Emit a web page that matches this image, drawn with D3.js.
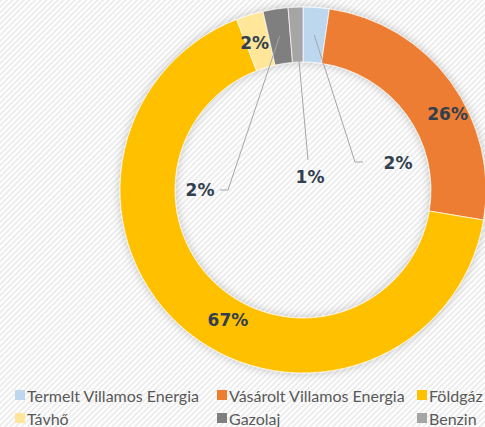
<!DOCTYPE html>
<html lang="hu">
  <head>
    <meta charset="UTF-8">
    <title>Energia megoszlás</title>
    <script src="https://d3js.org/d3.v7.min.js"></script>
    <style>
      body { margin: 0; background: #fff; }
      svg { display: block; }
    </style>
  </head>
  <body>
    <script>

      const categories = ["Termelt Villamos Energia", "Vásárolt Villamos Energia", "Földgáz", "Távhő", "Gazolaj", "Benzin"];
      const values = [2.3, 25.3, 66.4, 2.4, 2.2, 1.3];
      const valueLabels = ["2%", "26%", "67%", "2%", "2%", "1%"];
      const colors = ["#bdd7ee", "#ed7d31", "#ffc000", "#ffe699", "#7f7f7f", "#a5a5a5"];

      const w = 485;
      const h = 427;
      const cx = 303, cy = 190;
      const rOuter = 183, rInner = 128;

      const svg = d3.select("body")
                    .append("svg")
                    .attr("width", w)
                    .attr("height", h);

      const defs = svg.append("defs");

      // diagonal striped background
      const pat = defs.append("pattern")
                      .attr("id", "stripes")
                      .attr("patternUnits", "userSpaceOnUse")
                      .attr("width", 4)
                      .attr("height", 4)
                      .attr("patternTransform", "rotate(45)");
      pat.append("rect").attr("width", 4).attr("height", 4).attr("fill", "#ffffff");
      pat.append("rect").attr("width", 2).attr("height", 4).attr("fill", "#ededed");

      const shadow = defs.append("filter")
                         .attr("id", "shadow")
                         .attr("x", "-20%").attr("y", "-20%")
                         .attr("width", "140%").attr("height", "140%");
      shadow.append("feDropShadow")
            .attr("dx", 0).attr("dy", 0)
            .attr("stdDeviation", 5)
            .attr("flood-color", "#000")
            .attr("flood-opacity", 0.22);

      svg.append("rect")
         .attr("width", w)
         .attr("height", h)
         .attr("fill", "url(#stripes)");

      const pie = d3.pie().sort(null).value(d => d);
      const arcs = pie(values);

      const arc = d3.arc().innerRadius(rInner).outerRadius(rOuter);
      const midArc = d3.arc().innerRadius((rInner + rOuter) / 2).outerRadius((rInner + rOuter) / 2);

      const g = svg.append("g").attr("transform", `translate(${cx},${cy})`);

      g.append("g")
       .attr("filter", "url(#shadow)")
       .selectAll("path")
       .data(arcs)
       .enter()
       .append("path")
       .attr("d", arc)
       .attr("fill", (d, i) => colors[i])
       .attr("stroke", "#ffffff")
       .attr("stroke-width", 0.7);

      // label placement: inside labels are nudged from the centroid,
      // small slices get a leader line to an outside label
      const nudge = [null, [19, 16], [23, 9], [-3, 2], null, null];
      const leader = [
        { lab: [95, -27], elbow: [52, -28], end: [60, -28] },
        null, null, null,
        { lab: [-103, 0], elbow: [-75, 0], end: [-83, 0] },
        { lab: [7, -13], elbow: [5, -30], end: [5, -30] }
      ];

      const labelPos = arcs.map((d, i) => {
        const c = midArc.centroid(d);
        if (leader[i]) return leader[i].lab;
        return [c[0] + nudge[i][0], c[1] + nudge[i][1]];
      });

      g.append("g")
       .selectAll("polyline")
       .data(arcs.filter((d, i) => leader[i]))
       .enter()
       .append("polyline")
       .attr("points", d => {
          const L = leader[d.index];
          return [midArc.centroid(d), L.elbow, L.end].map(p => p.join(",")).join(" ");
       })
       .attr("fill", "none")
       .attr("stroke", "#a6a6a6")
       .attr("stroke-width", 1);

      g.append("g")
       .selectAll("text")
       .data(arcs)
       .enter()
       .append("text")
       .attr("x", (d, i) => labelPos[i][0])
       .attr("y", (d, i) => labelPos[i][1])
       .attr("text-anchor", "middle")
       .attr("dominant-baseline", "central")
       .style("font-family", "'DejaVu Sans', sans-serif")
       .style("font-weight", "bold")
       .style("font-size", "17px")
       .style("fill", "#323f4f")
       .text((d, i) => valueLabels[i]);

      // legend
      const legendX = [15, 217, 417];
      const legendY = [395, 418];
      const legend = svg.append("g")
                        .selectAll("g")
                        .data(categories)
                        .enter()
                        .append("g")
                        .attr("transform", (d, i) => `translate(${legendX[i % 3]},${legendY[Math.floor(i / 3)]})`);

      legend.append("rect")
            .attr("x", 0)
            .attr("y", -5)
            .attr("width", 10)
            .attr("height", 10)
            .attr("fill", (d, i) => colors[i]);

      legend.append("text")
            .attr("x", 12)
            .attr("y", 0)
            .attr("dominant-baseline", "central")
            .style("font-family", "Lato, 'Open Sans', sans-serif")
            .style("font-size", "16px")
            .style("fill", "#595959")
            .text(d => d);
    </script>
  </body>
</html>
